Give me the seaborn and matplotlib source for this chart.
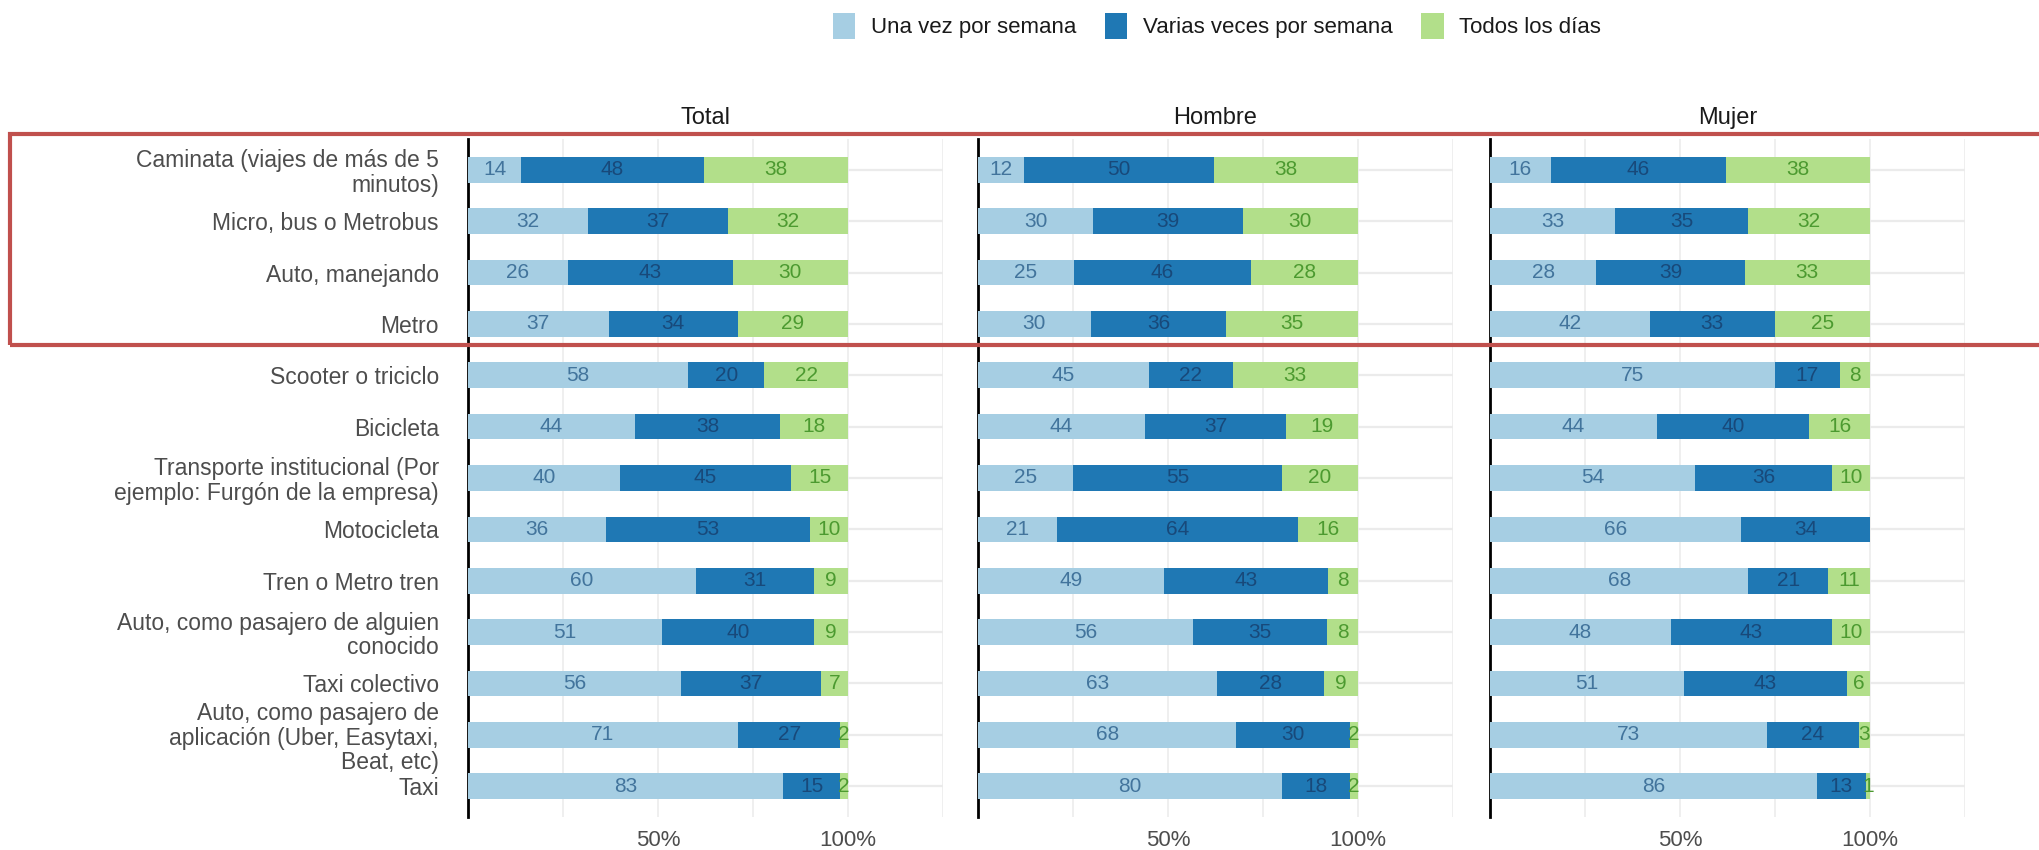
"""Frecuencia de uso por modo de transporte, total y por sexo."""

import matplotlib
matplotlib.use("Agg")
import matplotlib.pyplot as plt
from matplotlib.patches import Patch, Rectangle
import numpy as np
import pandas as pd
import seaborn as sns


CATEGORIES = [
    "Caminata (viajes de más de 5\nminutos)",
    "Micro, bus o Metrobus",
    "Auto, manejando",
    "Metro",
    "Scooter o triciclo",
    "Bicicleta",
    "Transporte institucional (Por\nejemplo: Furgón de la empresa)",
    "Motocicleta",
    "Tren o Metro tren",
    "Auto, como pasajero de alguien\nconocido",
    "Taxi colectivo",
    "Auto, como pasajero de\naplicación (Uber, Easytaxi,\nBeat, etc)",
    "Taxi",
]
PANELS = ["Total", "Hombre", "Mujer"]
SERIES = ["Una vez por semana", "Varias veces por semana", "Todos los días"]

TOTAL_UNA = [14, 32, 26, 37, 58, 44, 40, 36, 60, 51, 56, 71, 83]
TOTAL_VARIAS = [48, 37, 43, 34, 20, 38, 45, 53, 31, 40, 37, 27, 15]
TOTAL_TODOS = [38, 32, 30, 29, 22, 18, 15, 10, 9, 9, 7, 2, 2]

HOMBRE_UNA = [12, 30, 25, 30, 45, 44, 25, 21, 49, 56, 63, 68, 80]
HOMBRE_VARIAS = [50, 39, 46, 36, 22, 37, 55, 64, 43, 35, 28, 30, 18]
HOMBRE_TODOS = [38, 30, 28, 35, 33, 19, 20, 16, 8, 8, 9, 2, 2]

MUJER_UNA = [16, 33, 28, 42, 75, 44, 54, 66, 68, 48, 51, 73, 86]
MUJER_VARIAS = [46, 35, 39, 33, 17, 40, 36, 34, 21, 43, 43, 24, 13]
MUJER_TODOS = [38, 32, 33, 25, 8, 16, 10, 0, 11, 10, 6, 3, 1]

PANEL_DATA = {
    "Total": (TOTAL_UNA, TOTAL_VARIAS, TOTAL_TODOS),
    "Hombre": (HOMBRE_UNA, HOMBRE_VARIAS, HOMBRE_TODOS),
    "Mujer": (MUJER_UNA, MUJER_VARIAS, MUJER_TODOS),
}

COLORS = ["#a6cee3", "#1f78b4", "#b2df8a"]
LABEL_COLORS = ["#42749c", "#18497a", "#4c9a30"]

W, H = 2040, 850
PANEL_LEFT_PX = [468, 978, 1490]
PANEL_WIDTH_PX = 475
PANEL_TOP_PX, PANEL_BOTTOM_PX = 139, 817


def panel_frame(values):
    una, varias, todos = (np.array(v, dtype=float) for v in values)
    total = una + varias + todos
    return pd.DataFrame({
        "cat": CATEGORIES,
        "una": una, "varias": varias, "todos": todos,
        "c1": una / total,
        "c2": (una + varias) / total,
        "c3": (una + varias + todos) / total,
    })


sns.set_theme(style="white")
plt.rcParams["font.family"] = ["Liberation Sans", "DejaVu Sans"]

fig = plt.figure(figsize=(W / 100, H / 100), dpi=100)

for idx, panel in enumerate(PANELS):
    ax = fig.add_axes([
        PANEL_LEFT_PX[idx] / W,
        1 - PANEL_BOTTOM_PX / H,
        PANEL_WIDTH_PX / W,
        (PANEL_BOTTOM_PX - PANEL_TOP_PX) / H,
    ])
    df = panel_frame(PANEL_DATA[panel])

    # stacked look: draw cumulative bars from the longest to the shortest
    for col, color in zip(["c3", "c2", "c1"], COLORS[::-1]):
        sns.barplot(data=df, x=col, y="cat", order=CATEGORIES, color=color,
                    saturation=1, width=0.5, errorbar=None, linewidth=0,
                    ax=ax, zorder=3)

    starts = [np.zeros(len(df)), df["c1"].values, df["c2"].values]
    ends = [df["c1"].values, df["c2"].values, df["c3"].values]
    raw = [df["una"].values, df["varias"].values, df["todos"].values]
    for s, e, r, lc in zip(starts, ends, raw, LABEL_COLORS):
        for i in range(len(df)):
            if r[i] <= 0:
                continue
            ax.text((s[i] + e[i]) / 2, i, f"{int(r[i])}", ha="center", va="center",
                    fontsize=15, color=lc, zorder=4)

    ax.set_xlim(0, 1.25)
    ax.set_ylim(len(CATEGORIES) - 1 + 0.6, -0.6)
    ax.set_xticks([0.5, 1.0])
    ax.set_xticklabels(["50%", "100%"])
    ax.set_xticks([0.25, 0.75, 1.25], minor=True)
    ax.grid(True, which="both", axis="x", color="#ebebeb", linewidth=1.1, zorder=0)
    ax.grid(True, which="major", axis="y", color="#ebebeb", linewidth=1.6, zorder=0)
    ax.set_axisbelow(True)
    ax.set_xlabel("")
    ax.set_ylabel("")

    for side in ["top", "right", "bottom"]:
        ax.spines[side].set_visible(False)
    ax.spines["left"].set_color("black")
    ax.spines["left"].set_linewidth(2)

    ax.tick_params(axis="x", which="both", length=0, pad=9,
                   labelsize=16, labelcolor="#4d4d4d")
    ax.tick_params(axis="y", length=8, width=1.5, color="#dcdcdc", pad=13,
                   labelsize=16.5, labelcolor="#4d4d4d", labelleft=(idx == 0))
    if idx == 0:
        for lbl in ax.get_yticklabels():
            lbl.set_linespacing(1.08)

    ax.set_title(panel, fontsize=17, color="#1a1a1a", pad=11)

handles = [Patch(facecolor=c, edgecolor="none") for c in COLORS]
fig.legend(handles, SERIES, loc="center", bbox_to_anchor=(1217 / W, 1 - 26 / H),
           ncol=3, frameon=False, fontsize=16, handlelength=1.0, handleheight=1.4,
           handletextpad=0.7, columnspacing=1.3, labelcolor="#1a1a1a")

# highlight box around the first four modes
fig.add_artist(Rectangle((10 / W, 1 - 345 / H), 1.0, (345 - 134) / H,
                         transform=fig.transFigure, fill=False,
                         edgecolor="#c0504d", linewidth=3, zorder=10))

fig.savefig("out.png", dpi=100)
plt.close(fig)
